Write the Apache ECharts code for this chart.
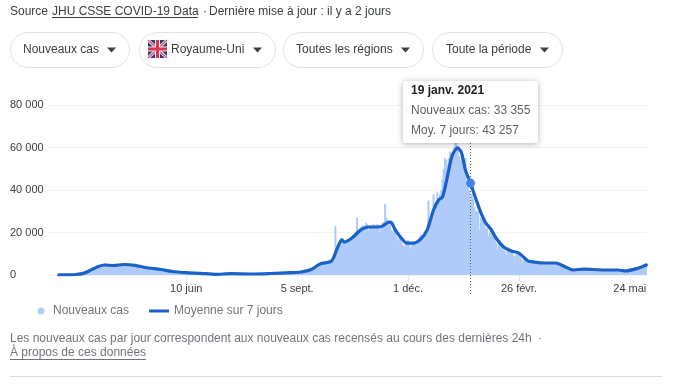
<!DOCTYPE html>
<html><head><meta charset="utf-8">
<script src="https://cdn.jsdelivr.net/npm/echarts@6/dist/echarts.min.js"></script>
<style>html,body{margin:0;padding:0;background:#fff}#c{width:687px;height:390px}</style>
</head><body><div id="c"></div>
<script>
const startDate = '2020-03-02';
const paddingDays = 8;
const tickDates = ['2020-06-10','2020-09-05','2020-12-01','2021-02-26','2021-05-24'];
const tickLabels = ['10 juin','5 sept.','1 déc.','26 févr.','24 mai'];
const yTicks = [0,20000,40000,60000,80000];
const newCases = [
40,50,60,70,90,100,120,
130,160,200,230,300,330,350,
400,500,650,700,800,1000,1200,
1400,1500,1900,2400,2800,2700,2600,
3000,3400,4300,4500,4200,3700,4000,
4800,5300,5500,4800,4300,4100,4500,
4700,4900,4600,4400,4200,4500,4900,
5300,5200,5000,4700,4700,4800,4900,
4800,4500,4300,4600,4800,4400,4000,
3900,4100,3800,3500,3300,3600,3500,
3300,3000,3100,3000,2700,2800,2800,
2700,2500,2600,2700,2400,2300,2200,
2100,1900,1800,2000,1700,1500,1500,
1600,1400,1400,1500,1300,1200,1200,
1200,1100,1000,1100,1000,900,1000,
900,800,900,800,800,700,800,
700,600,700,600,500,500,500,
400,400,300,300,400,300,400,
400,500,500,400,600,600,500,
600,600,700,600,600,500,600,
600,500,500,400,500,500,500,
500,400,500,500,500,400,500,
500,600,500,600,600,600,500,
600,700,700,600,700,800,700,
800,800,700,800,800,900,800,
900,900,800,1000,1000,1100,1000,
1100,1000,1100,1200,1300,1100,1300,
1400,1500,1700,2000,2500,2700,2500,
2500,2700,3000,3100,3400,3500,3300,
3500,3700,4300,4800,5000,5500,5200,
5900,6400,6800,6500,6800,7100,6900,
23000,13000,14000,15500,16500,17500,17000,
15000,15500,16000,16800,17500,17200,18000,
19000,19700,20500,27000,21000,21500,22500,
23000,23500,22000,24500,24000,21000,22500,
23500,22000,24000,21500,23000,24000,22000,
20500,23500,24500,25000,33400,27000,26000,
25000,24500,21000,20500,22000,20000,18000,
16000,17500,18000,15500,14000,13000,15500,
16000,16500,14500,12500,14000,15500,16000,
15000,14500,17000,18000,19000,17500,18500,
19000,20500,22000,35000,25000,27000,28000,
38000,30000,33000,39000,36000,38000,40000,
45000,50000,55000,54000,52000,55000,58000,
56000,57000,60000,64000,68000,60000,56000,
54000,59000,55000,50000,55000,44000,44000,
40000,33355,38000,36000,32000,30000,30000,
30000,21000,27000,27000,26000,27000,22000,
22000,18000,20000,21000,20000,19500,17000,
15000,12000,15000,16500,14500,14000,12000,
11000,9500,12500,13000,12000,10800,10500,
9000,8500,10500,10000,9500,8500,7500,
6200,7500,8000,7000,6500,6000,5500,
5500,6800,6400,6200,6000,5400,5000,
6200,6000,6000,5800,5500,5600,5200,
6000,5900,5800,5600,5300,5500,5000,
5100,4800,4500,4000,3800,3500,3000,
3200,2900,2500,2400,2300,2100,2400,
2700,2700,2600,2800,2700,2500,2900,
2700,2900,2800,2600,2500,2500,2400,
2300,2500,2400,2300,2200,2100,2400,
2500,2400,2600,2300,2300,2200,2500,
2400,2500,2300,2300,2400,2100,2000,
2100,2000,1900,1800,1900,2200,2100,
2300,2500,2800,2900,3000,3100,3000,
3200,3400,3500,3700,4000,4800,5300
];
const maDays = [0,13,20,25,31,36,43,51,60,68,80,89,100,111,123,135,151,166,182,190,198,205,214,218,222,224,230,237,243,250,254,259,261,264,268,273,278,284,289,294,298,301,304,308,310,313,316,319,323,327,331,335,339,343,349,355,361,368,373,381,390,396,404,412,428,439,445,455,461];
const maValues = [50,240,900,2300,4000,4700,4470,4940,4560,3530,2590,1650,1080,800,330,610,470,700,1080,1410,2590,5200,6600,11800,16500,15500,17400,21200,22600,22600,23000,24900,24700,21200,17900,15000,15000,16900,21200,30600,35300,36700,43800,55000,57900,59800,57400,49400,43257,36200,29600,24500,21600,17400,13200,11300,10350,6600,6100,5650,5650,4240,2350,2800,2350,2350,1900,3300,4700];
const tipDay = 323;
const tipDate = '19 janv. 2021';
const tipCases = 33355;
const tipAvg = 43257;
const chipLabels = ['Nouveaux cas','Royaume-Uni','Toutes les régions','Toute la période'];
const seriesNames = ['Nouveaux cas','Moyenne sur 7 jours'];

const fmt = v => String(v).replace(/\B(?=(\d{3})+$)/g,' ');
const FONT = '"Liberation Sans", Arial, sans-serif';
const dayMs = 86400000;
const start = Date.parse(startDate+'T00:00:00Z');
const categories = [];
for (let i=0;i<paddingDays+newCases.length;i++){
  categories.push(new Date(start+(i-paddingDays)*dayMs).toISOString().slice(0,10));
}
const barData = categories.map((c,i)=> i<paddingDays?null:newCases[i-paddingDays]);
const maData = maDays.map((d,i)=>[d+paddingDays,maValues[i]]);
const isTick = (i,c)=> tickDates.includes(c);

const chart = echarts.init(document.getElementById('c'),null,{renderer:'canvas'});
chart.setOption({
  animation:false,
  textStyle:{fontFamily:FONT},
  grid:{left:48,right:40,top:105,bottom:115,containLabel:false},
  legend:{
    left:32.5,top:300,itemWidth:20,itemHeight:7,itemGap:20,
    selectedMode:false,
    textStyle:{color:'#70757a',fontSize:12,fontFamily:FONT},
    data:[{name:seriesNames[0],icon:'circle',textStyle:{padding:[0,0,0,-3]}},
          {name:seriesNames[1],icon:'path://M0 0H20V3H0Z'}]
  },
  xAxis:{
    type:'category',data:categories,boundaryGap:true,
    axisLine:{show:false},
    axisTick:{show:true,alignWithLabel:true,interval:isTick,length:7,lineStyle:{color:'#e8eaed',width:1}},
    axisLabel:{interval:isTick,margin:8,color:'#3c4043',fontSize:11,fontFamily:FONT,
      formatter:v=>tickLabels[tickDates.indexOf(v)]},
    splitLine:{show:false}
  },
  yAxis:{
    type:'value',min:0,max:80000,interval:20000,
    axisLine:{show:false},axisTick:{show:false},
    axisLabel:{align:'left',margin:38,padding:[2,0,0,0],color:'#3c4043',fontSize:11,fontFamily:FONT,formatter:v=>fmt(v)},
    splitLine:{lineStyle:{color:'#f1f3f4',width:1}}
  },
  series:[
    {name:seriesNames[0],type:'bar',data:barData,barWidth:2,barGap:'-100%',
     itemStyle:{color:'#aecbfa'},emphasis:{disabled:true}},
    {name:seriesNames[1],type:'line',data:maData,symbol:'none',smooth:0.25,z:3,
     lineStyle:{color:'#1a62c9',width:3.2,cap:'round',join:'round'},
     itemStyle:{color:'#1a62c9'},
     markPoint:{symbol:'circle',symbolSize:9,silent:true,label:{show:false},
       itemStyle:{color:'#4285f4'},
       data:[{coord:[tipDay+paddingDays,tipAvg]}]}}
  ]
});

const tipX = chart.convertToPixel({xAxisIndex:0},tipDay+paddingDays);
const T=(x,y,text,o={})=>({type:'text',z:50,x,y,style:Object.assign({text,fill:'#3c4043',font:'12px '+FONT,verticalAlign:'middle'},o)});
const chipBoxes=[[10,119],[139,136],[283,140],[432,130]];
const g=[];
g.push(T(10,12,'Source'));
g.push(T(52,12,'JHU CSSE COVID-19 Data'));
g.push({type:'line',z:50,shape:{x1:52,y1:17.5,x2:198,y2:17.5},style:{stroke:'#3c4043',lineWidth:1}});
g.push(T(203,12,'·'));
g.push(T(209,12,'Dernière mise à jour : il y a 2 jours'));
const chipTextX=[23,171,296,446];
chipBoxes.forEach((b,i)=>{
  g.push({type:'rect',z:50,shape:{x:b[0]+.5,y:32.5,width:b[1],height:35,r:17.5},style:{fill:'#fff',stroke:'#dfe1e5',lineWidth:1}});
  g.push(T(chipTextX[i],50,chipLabels[i]));
  const tx=b[0]+b[1]-22;
  g.push({type:'polygon',z:50,shape:{points:[[tx,47.5],[tx+9,47.5],[tx+4.5,52.5]]},style:{fill:'#3c4043'}});
});
// flag
g.push({type:'group',z:50,x:148,y:40,children:[
  {type:'rect',z:50,shape:{x:0,y:0,width:19,height:18,r:2},style:{fill:'#2a3f7f'}},
  {type:'line',z:50,shape:{x1:0,y1:0,x2:19,y2:18},style:{stroke:'#fff',lineWidth:3}},
  {type:'line',z:50,shape:{x1:19,y1:0,x2:0,y2:18},style:{stroke:'#fff',lineWidth:3}},
  {type:'line',z:50,shape:{x1:0,y1:0,x2:19,y2:18},style:{stroke:'#d8455a',lineWidth:1.2}},
  {type:'line',z:50,shape:{x1:19,y1:0,x2:0,y2:18},style:{stroke:'#d8455a',lineWidth:1.2}},
  {type:'rect',z:51,shape:{x:7,y:0,width:5,height:18},style:{fill:'#f4e6ea'}},
  {type:'rect',z:51,shape:{x:0,y:6.5,width:19,height:5},style:{fill:'#f4e6ea'}},
  {type:'rect',z:52,shape:{x:8,y:0,width:3,height:18},style:{fill:'#d8354f'}},
  {type:'rect',z:52,shape:{x:0,y:7.5,width:19,height:3},style:{fill:'#d8354f'}}
]});
// hover guide
g.push({type:'line',z:40,shape:{x1:Math.round(tipX)+.5,y1:143,x2:Math.round(tipX)+.5,y2:295},style:{stroke:'#5f6368',lineWidth:1,lineDash:[1,2]}});
// tooltip
g.push({type:'rect',z:45,shape:{x:403,y:81,width:135,height:62,r:2},style:{fill:'#fff',shadowBlur:6,shadowColor:'rgba(0,0,0,.3)',shadowOffsetY:1}});
g.push(T(411,91,tipDate,{font:'bold 12px '+FONT,fill:'#202124'}));
g.push(T(411,111,'Nouveaux cas: '+fmt(tipCases),{fill:'#5f6368'}));
g.push(T(411,131,'Moy. 7 jours: '+fmt(tipAvg),{fill:'#5f6368'}));
// footer
g.push(T(10,339,'Les nouveaux cas par jour correspondent aux nouveaux cas recensés au cours des dernières 24h  ·',{fill:'#70757a'}));
g.push(T(10,353,'À propos de ces données',{fill:'#70757a'}));
g.push({type:'line',z:50,shape:{x1:10,y1:359.5,x2:146,y2:359.5},style:{stroke:'#70757a',lineWidth:1}});
g.push({type:'line',z:50,shape:{x1:10,y1:376.5,x2:662,y2:376.5},style:{stroke:'#dadce0',lineWidth:1}});
chart.setOption({graphic:{elements:g}});
</script></body></html>
